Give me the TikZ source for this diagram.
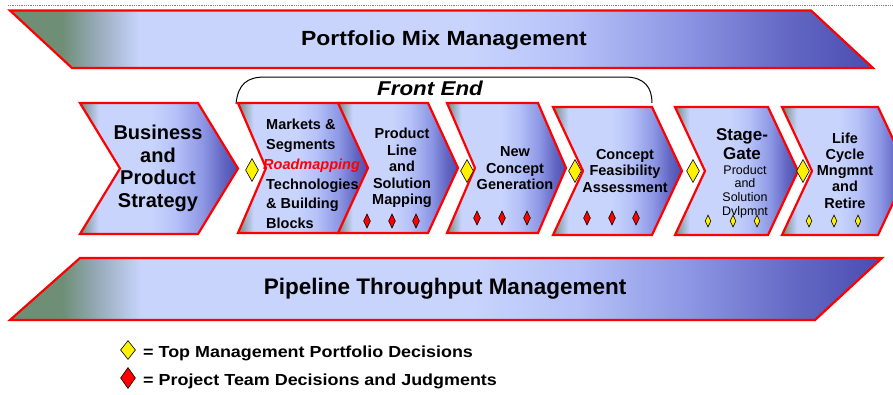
\documentclass[tikz,border=0pt]{standalone}
\usepackage{fontspec}
\setmainfont{Liberation Sans}
\newfontfamily\widesans[FakeStretch=1.12]{Liberation Sans}
\usetikzlibrary{shapes.geometric}
\definecolor{chgreen}{RGB}{110,142,118}
\definecolor{chgrey}{RGB}{150,170,184}
\definecolor{chlight}{RGB}{200,212,252}
\definecolor{chmid}{RGB}{182,194,248}
\definecolor{chblue}{RGB}{140,150,228}
\definecolor{chdeep}{RGB}{100,104,196}
\definecolor{chdark}{RGB}{74,76,176}
\pgfdeclarehorizontalshading{chevshade}{100bp}{color(0bp)=(chgreen); color(25bp)=(chgreen); color(27.5bp)=(chgrey); color(31bp)=(chlight); color(47.5bp)=(chlight); color(55bp)=(chmid); color(64bp)=(chblue); color(70bp)=(chdeep); color(75bp)=(chdark); color(100bp)=(chdark)}
\pgfdeclarehorizontalshading{bandshade}{100bp}{color(0bp)=(chgreen); color(25bp)=(chgreen); color(28bp)=(chgreen); color(30bp)=(chgrey); color(32.5bp)=(chlight); color(51.5bp)=(chlight); color(57.5bp)=(chmid); color(64bp)=(chblue); color(70bp)=(chdeep); color(75bp)=(chdark); color(100bp)=(chdark)}

\begin{document}
\begin{tikzpicture}[x=1pt,y=1pt]
                  \tikzstyle{every node}+=[inner sep=0pt]
                  \tikzstyle{chev}=[draw=red, line width=2.2pt, line join=miter, shading=chevshade]
                  \tikzstyle{band}=[draw=red, line width=2.2pt, shading=bandshade]
                  \tikzstyle{bigdec}=[diamond, draw=black, fill=yellow, line width=0.6pt, minimum width=13pt, minimum height=23pt]
                  \tikzstyle{reddec}=[diamond, draw=black, fill=red, line width=0.6pt, minimum width=7pt, minimum height=14pt]
                  \tikzstyle{ydec}=[diamond, draw=black, fill=yellow, line width=0.6pt, minimum width=6pt, minimum height=12pt]
                  \tikzstyle{chevtext}=[align=center, font=\bfseries\fontsize{14.5}{16.5}\selectfont]
                  \useasboundingbox (0,0) rectangle (893,-394);
                  \clip (0,0) rectangle (893,-394);
                  \draw [gray, line width=0.8pt, densely dotted] (8,-5) -- (893,-5);
                  \path [band] (10,-10.5) -- (811,-10.5) -- (873,-68) -- (72,-68) -- cycle;
                  \node (portfolio) at (444,-40) {\widesans\bfseries\fontsize{20.5}{22}\selectfont Portfolio Mix Management};
                  \path [band] (80,-258) -- (882,-258) -- (815,-320) -- (10,-320) -- cycle;
                  \node (pipeline) at (445,-289) {\bfseries\fontsize{22.5}{24}\selectfont Pipeline Throughput Management};
                  \coordinate (fel) at (236,-104);
                  \coordinate (fer) at (652,-103);
                  \draw [black, line width=1pt] (fel) .. controls (238,-84) and (247,-77) .. (265,-77) -- (625,-77) .. controls (645,-77) and (652,-88) .. (fer);
                  \node (frontend) at (430,-88) {\widesans\bfseries\itshape\fontsize{20}{22}\selectfont Front End};
                  \path [chev] (80,-103) -- (198,-103) -- (238,-168.5) -- (198,-234) -- (80,-234) -- (120,-168.5) -- cycle;
                  \node (business) at (158,-168.5) [align=center, font=\bfseries\fontsize{20}{22.5}\selectfont] {Business\\and\\Product\\Strategy};
                  \path [chev] (238,-103) -- (340,-103) -- (368,-168) -- (340,-233) -- (238,-233) -- (266,-168) -- cycle;
                  \path [chev] (338,-103) -- (428,-103) -- (458,-168) -- (428,-233) -- (338,-233) -- (368,-168) -- cycle;
                  \node (markets) at (266,-174) [anchor=west, align=left, font=\bfseries\fontsize{14.5}{19.8}\selectfont] {Markets \&\\Segments\\\hspace*{-3pt}{\color{red}\itshape Roadmapping}\\Technologies\\\& Building\\Blocks};
                  \node (prodline) at (402,-168) [chevtext] {Product\\Line\\and\\Solution\\Mapping};
                  \path [chev] (447,-103) -- (538,-103) -- (566,-168) -- (538,-233) -- (447,-233) -- (475,-168) -- cycle;
                  \node (newconcept) at (515,-168.5) [chevtext] {New\\Concept\\Generation};
                  \path [chev] (553,-107) -- (652,-107) -- (682,-171) -- (652,-235) -- (553,-235) -- (583,-171) -- cycle;
                  \node (feasibility) at (625,-171) [chevtext] {Concept\\Feasibility\\Assessment};
                  \path [chev] (675,-107) -- (768,-107) -- (798,-171) -- (768,-235) -- (675,-235) -- (705,-171) -- cycle;
                  \node (stagegate) at (742,-144.5) [align=center, font=\bfseries\fontsize{17}{19}\selectfont] {Stage-\\Gate};
                  \node (development) at (745,-191.5) [align=center, font=\fontsize{12.5}{13.7}\selectfont] {Product\\and\\Solution\\Dvlpmnt};
                  \path [chev] (782,-107) -- (878,-107) -- (908,-171) -- (878,-235) -- (782,-235) -- (812,-171) -- cycle;
                  \node (lifecycle) at (845,-170.5) [align=center, font=\bfseries\fontsize{14.5}{16.3}\selectfont] {Life\\Cycle\\Mngmnt\\and\\Retire};
                  \node [bigdec] (gate1) at (252,-170) {};
                  \node [bigdec] (gate2) at (467,-171) {};
                  \node [bigdec] (gate3) at (575,-171) {};
                  \node [bigdec] (gate4) at (693,-171) {};
                  \node [bigdec] (gate5) at (803,-171) {};
                  \foreach \x in {367,392,416} \node [reddec] (pl\x) at (\x,-221) {};
                  \foreach \x in {477,502,527} \node [reddec] (nc\x) at (\x,-218) {};
                  \foreach \x in {587,612,636} \node [reddec] (cf\x) at (\x,-218) {};
                  \foreach \x in {708,733,757} \node [ydec] (sg\x) at (\x,-221) {};
                  \foreach \x in {809,834,858} \node [ydec] (lc\x) at (\x,-221) {};
                  \node [bigdec, minimum width=15pt, minimum height=19pt] (keytop) at (128,-350) {};
                  \node (keytoptext) at (143,-353) [anchor=west, font=\widesans\bfseries\fontsize{16}{18}\selectfont] {= Top Management Portfolio Decisions};
                  \node [bigdec, fill=red, minimum width=15pt, minimum height=21pt] (keyteam) at (128,-378) {};
                  \node (keyteamtext) at (143,-381) [anchor=west, font=\widesans\bfseries\fontsize{16}{18}\selectfont] {= Project Team Decisions and Judgments};
              \end{tikzpicture}
\end{document}
